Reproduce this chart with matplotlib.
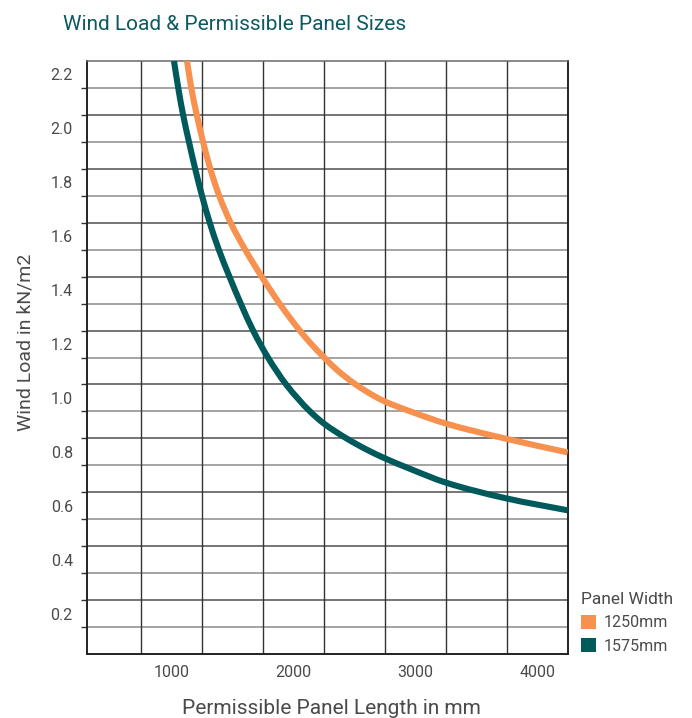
import matplotlib
matplotlib.use("Agg")
import matplotlib.pyplot as plt
from matplotlib.patches import Patch, PathPatch
from matplotlib.path import Path

# ---- data ----
len_1250 = [1127, 1162, 1202, 1256, 1318, 1391, 1485, 1604, 1746, 1819, 1891, 1965, 2054, 2142,
            2250, 2362, 2504, 2663, 2750, 2978, 3250, 3731, 4250]
load_1250 = [2.25, 2.15, 2.06, 1.955, 1.85, 1.75, 1.65, 1.55, 1.445, 1.395, 1.347, 1.301, 1.249, 1.202,
             1.151, 1.102, 1.052, 1.007, 0.987, 0.947, 0.905, 0.850, 0.798]

len_1575 = [1020, 1055, 1095, 1143, 1194, 1250, 1310, 1388, 1475, 1568, 1669, 1791, 1940, 2136,
            2250, 2435, 2598, 2750, 2951, 3250, 3750, 4250]
load_1575 = [2.25, 2.15, 2.05, 1.95, 1.85, 1.75, 1.655, 1.55, 1.45, 1.35, 1.25, 1.15, 1.05, 0.95,
             0.905, 0.85, 0.809, 0.776, 0.738, 0.686, 0.627, 0.583]

series_names = ["1250mm", "1575mm"]
x_tick_labels = [1000, 2000, 3000, 4000]
y_tick_labels = [0.2, 0.4, 0.6, 0.8, 1.0, 1.2, 1.4, 1.6, 1.8, 2.0, 2.2]

# grid structure (bands between labelled values)
x_grid = [750, 1250, 1750, 2250, 2750, 3250, 3750]
y_grid = [0.15 + 0.1 * i for i in range(21)]

ORANGE = "#f7914f"
TEAL = "#005a5c"
TITLE_C = "#0d5a60"
TXT = "#4a4a4a"


def smooth_path(xs, ys):
    """Monotone cubic (PCHIP-style) Bezier path through the given points."""
    n = len(xs)
    h = [xs[i + 1] - xs[i] for i in range(n - 1)]
    d = [(ys[i + 1] - ys[i]) / h[i] for i in range(n - 1)]
    m = [0.0] * n
    m[0], m[-1] = d[0], d[-1]
    for k in range(1, n - 1):
        if d[k - 1] * d[k] <= 0:
            m[k] = 0.0
        else:
            w1 = 2 * h[k] + h[k - 1]
            w2 = h[k] + 2 * h[k - 1]
            m[k] = (w1 + w2) / (w1 / d[k - 1] + w2 / d[k])
    verts = [(xs[0], ys[0])]
    codes = [Path.MOVETO]
    for i in range(n - 1):
        verts += [(xs[i] + h[i] / 3, ys[i] + m[i] * h[i] / 3),
                  (xs[i + 1] - h[i] / 3, ys[i + 1] - m[i + 1] * h[i] / 3),
                  (xs[i + 1], ys[i + 1])]
        codes += [Path.CURVE4] * 3
    return Path(verts, codes)


plt.rcParams["font.family"] = ["Roboto", "DejaVu Sans"]

fig = plt.figure(figsize=(6.92, 7.18), dpi=100)
ax = fig.add_axes([86.7 / 692, 1 - 654 / 718, (567.7 - 86.7) / 692, (654 - 61) / 718])
ax.set_xlim(304, 4250)
ax.set_ylim(0.05, 2.25)

# grid lines
for i, g in enumerate(y_grid):
    dark = (i % 2 == 1)
    ax.axhline(g, color="#505050" if dark else "#8c8c8c", lw=1.1, zorder=1)
for g in x_grid:
    ax.axvline(g, color="#333333", lw=1.0, zorder=1)

for xs, ys, col in [(len_1250, load_1250, ORANGE), (len_1575, load_1575, TEAL)]:
    ax.add_patch(PathPatch(smooth_path(xs, ys), facecolor="none", edgecolor=col, lw=4.4,
                           capstyle="butt", joinstyle="round", zorder=3))

# ticks
ax.set_yticks(y_grid)
ax.set_yticklabels([])
ax.tick_params(axis="y", which="major", direction="out", length=4, width=1.0, color="#333333")
ax.set_yticks(y_tick_labels, labels=[f"{v:.1f}" for v in y_tick_labels], minor=True)
ax.tick_params(axis="y", which="minor", length=0, pad=10, labelsize=11.5, labelcolor=TXT)

ax.set_xticks(x_grid)
ax.set_xticklabels([])
ax.tick_params(axis="x", which="major", length=0)
ax.set_xticks(x_tick_labels, labels=[str(v) for v in x_tick_labels], minor=True)
ax.tick_params(axis="x", which="minor", length=0, pad=8, labelsize=11.5, labelcolor=TXT)

for s in ["left", "bottom", "right"]:
    ax.spines[s].set_color("#222222")
    ax.spines[s].set_linewidth(1.4)
ax.spines["top"].set_color("#6a6a6a")
ax.spines["top"].set_linewidth(1.1)

ax.set_xlabel("Permissible Panel Length in mm", fontsize=15, color=TXT, va="center")
ax.xaxis.set_label_coords(0.508, -0.092)
ax.set_ylabel("Wind Load in kN/m2", fontsize=14, color=TXT, va="center")
ax.yaxis.set_label_coords(-0.128, 0.526)

fig.text(235 / 692, 1 - 24 / 718, "Wind Load & Permissible Panel Sizes", ha="center", va="center",
         fontsize=15, color=TITLE_C)

handles = [Patch(facecolor=ORANGE, edgecolor="none"), Patch(facecolor=TEAL, edgecolor="none")]
leg = fig.legend(handles, series_names, title="Panel Width", loc="upper left",
                 bbox_to_anchor=(581 / 692, 1 - 592 / 718), frameon=False,
                 fontsize=11.5, title_fontsize=12.5, handlelength=0.95, handleheight=0.95,
                 handletextpad=0.5, labelspacing=0.5, borderpad=0, borderaxespad=0)
leg._legend_box.align = "left"
for t in leg.get_texts():
    t.set_color(TXT)
leg.get_title().set_color(TXT)

fig.savefig("out.png", dpi=100)
